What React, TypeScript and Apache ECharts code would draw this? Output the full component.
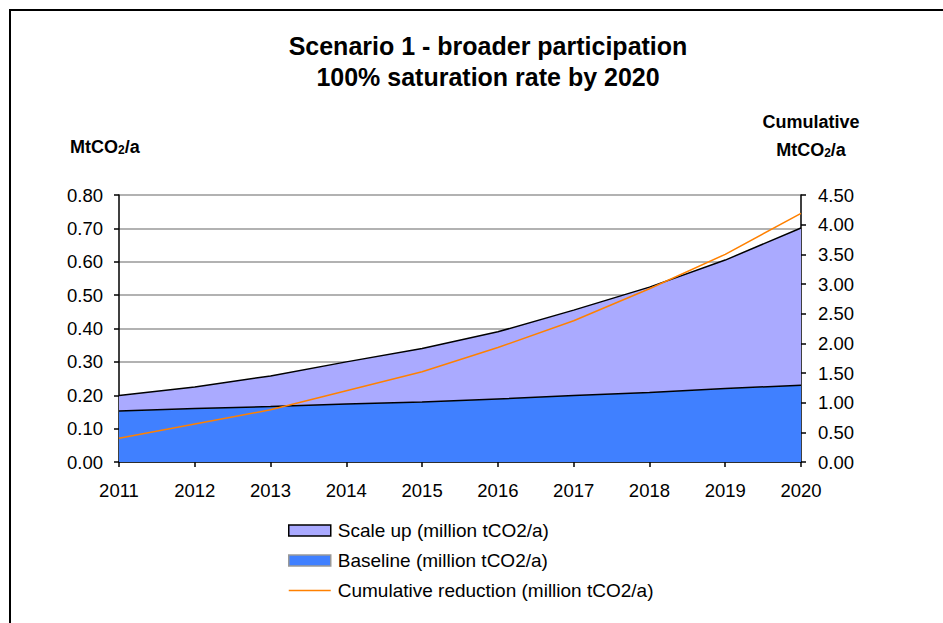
import React, { useEffect, useRef } from "react";
import * as echarts from "echarts";

const years = ["2011", "2012", "2013", "2014", "2015", "2016", "2017", "2018", "2019", "2020"];
const baseline = [0.153, 0.16, 0.166, 0.174, 0.18, 0.189, 0.199, 0.208, 0.22, 0.23];
const scaleUp = [0.046, 0.065, 0.092, 0.126, 0.16, 0.201, 0.256, 0.316, 0.385, 0.471];
const cumulative = [0.4, 0.64, 0.88, 1.2, 1.52, 1.93, 2.38, 2.92, 3.5, 4.19];

const leftTicks = { min: 0, max: 0.8, interval: 0.1 };
const rightTicks = { min: 0, max: 4.5, interval: 0.5 };

const FONT = "Liberation Sans, Arial, sans-serif";

export default function App() {
  const ref = useRef<HTMLDivElement>(null);
  useEffect(() => {
    if (!ref.current) return;
    const chart = echarts.init(ref.current, undefined, { renderer: "svg" });
    const axisLabel = { fontSize: 18.5, color: "#000", fontFamily: FONT };
    const unitRich = {
      b: { fontSize: 18, fontWeight: "bold", fontFamily: FONT, color: "#000", verticalAlign: "bottom" },
      s: { fontSize: 12, fontWeight: "bold", fontFamily: FONT, color: "#000", padding: [7, 0, 0, 0], verticalAlign: "bottom" },
    };
    chart.setOption({
      animation: false,
      backgroundColor: "#fff",
      title: {
        text: "Scenario 1 - broader participation\n100% saturation rate by 2020",
        left: 483,
        top: 25,
        textAlign: "center",
        textStyle: { fontSize: 25, fontWeight: "bold", color: "#000", fontFamily: FONT, lineHeight: 31 },
      },
      grid: { left: 119, right: 142, top: 195, bottom: 161, containLabel: false },
      legend: {
        orient: "vertical",
        left: 288,
        top: 521,
        padding: 0,
        itemWidth: 42,
        itemHeight: 11,
        itemGap: 11,
        textStyle: { fontSize: 19, color: "#000", fontFamily: FONT, padding: [0, 0, 0, 2] },
        data: [
          { name: "Scale up (million tCO2/a)", icon: "rect", itemStyle: { color: "#AAAAFF", borderColor: "#000", borderWidth: 1.5 } },
          { name: "Baseline (million tCO2/a)", icon: "rect", itemStyle: { color: "#4080FF", borderColor: "#999", borderWidth: 1.5 } },
          {
            name: "Cumulative reduction (million tCO2/a)",
            itemStyle: { color: "rgba(0,0,0,0)", borderColor: "rgba(0,0,0,0)", borderWidth: 0, opacity: 0 },
            lineStyle: { color: "#FF8000", width: 1.5, opacity: 1 },
          },
        ],
      },
      xAxis: {
        type: "category",
        data: years,
        boundaryGap: false,
        axisLine: { show: true, lineStyle: { color: "#000", width: 1.5 } },
        axisTick: { show: true, length: 5, lineStyle: { color: "#000", width: 1.5 } },
        axisLabel: { ...axisLabel, margin: 19 },
      },
      yAxis: [
        {
          type: "value",
          ...leftTicks,
          axisLine: { show: true, lineStyle: { color: "#000", width: 1.5 } },
          axisTick: { show: true, length: 5, lineStyle: { color: "#000", width: 1.5 } },
          axisLabel: { ...axisLabel, margin: 16, formatter: (v: number) => v.toFixed(2) },
          splitLine: { show: true, lineStyle: { color: "#999", width: 1.5 } },
        },
        {
          type: "value",
          ...rightTicks,
          position: "right",
          axisLine: { show: true, lineStyle: { color: "#000", width: 1.5 } },
          axisTick: { show: true, length: 5, lineStyle: { color: "#000", width: 1.5 } },
          axisLabel: { ...axisLabel, margin: 17, formatter: (v: number) => v.toFixed(2) },
          splitLine: { show: false },
        },
      ],
      series: [
        {
          name: "Baseline (million tCO2/a)",
          type: "line",
          stack: "total",
          data: baseline,
          symbol: "none",
          lineStyle: { color: "#000", width: 1.5 },
          itemStyle: { color: "#4080FF" },
          areaStyle: { color: "#4080FF", opacity: 1 },
          z: 2,
        },
        {
          name: "Scale up (million tCO2/a)",
          type: "line",
          stack: "total",
          data: scaleUp,
          symbol: "none",
          lineStyle: { color: "#000", width: 1.5 },
          itemStyle: { color: "#AAAAFF" },
          areaStyle: { color: "#AAAAFF", opacity: 1 },
          z: 2,
        },
        {
          name: "Cumulative reduction (million tCO2/a)",
          type: "line",
          yAxisIndex: 1,
          data: cumulative,
          symbol: "none",
          lineStyle: { color: "#FF8000", width: 1.5 },
          itemStyle: { color: "#FF8000" },
          z: 3,
        },
      ],
      graphic: [
        {
          type: "rect",
          shape: { x: 10, y: 10, width: 1000, height: 1000 },
          style: { fill: "none", stroke: "#000", lineWidth: 2 },
          silent: true,
        },
        {
          type: "text",
          x: 70,
          y: 137,
          style: { text: "{b|MtCO}{s|2}{b|/a}", rich: unitRich },
        },
        {
          type: "text",
          x: 811,
          y: 113,
          style: {
            text: "Cumulative",
            fontSize: 18,
            fontWeight: "bold",
            fontFamily: FONT,
            fill: "#000",
            align: "center",
          },
        },
        {
          type: "text",
          x: 811,
          y: 140,
          style: { text: "{b|MtCO}{s|2}{b|/a}", align: "center", rich: unitRich },
        },
      ],
    });
    return () => chart.dispose();
  }, []);
  return (
    <div
      ref={ref}
      style={{ position: "absolute", left: 0, top: 0, width: 943, height: 623 }}
    />
  );
}
